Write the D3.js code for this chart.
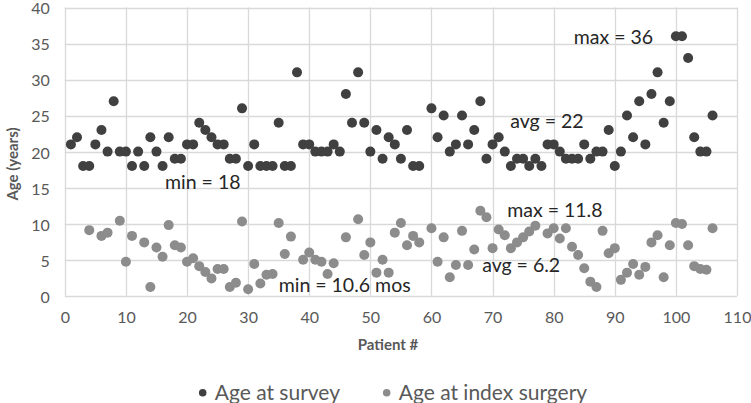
<!DOCTYPE html>
<html>
<head>
<meta charset="utf-8">
<script src="https://cdn.jsdelivr.net/npm/d3@7"></script>
<style>
  html, body { margin: 0; padding: 0; background: #fff; }
  svg { display: block; font-family: Lato, "Open Sans", sans-serif; }
</style>
</head>
<body>
<svg id="chart" width="751" height="403"></svg>
<script>
const patients = d3.range(1, 107);
const ageAtSurvey = [21,22,18,18,21,23,20,27,20,20,18,20,18,22,20,18,22,19,19,21,
  21,24,23,22,21,21,19,19,26,18,21,18,18,18,24,18,18,31,21,21,
  20,20,20,21,20,28,24,31,24,20,23,19,22,21,19,23,18,18,null,26,
  22,25,20,21,25,21,23,27,19,21,22,20,18,19,19,18,19,18,21,21,
  20,19,19,19,21,19,20,20,23,18,20,25,22,27,21,28,31,24,27,36,
  36,33,22,20,20,25];
const ageAtIndexSurgery = [null,null,null,9.1,null,8.3,8.75,null,10.4,4.7,8.3,null,7.4,1.2,6.7,5.4,9.8,7.0,6.7,4.7,
  5.2,4.1,3.3,2.4,3.7,3.7,1.2,1.8,10.3,0.9,4.4,1.7,2.9,3.0,10.1,5.8,8.2,null,5.0,6.0,
  5.0,4.7,3.0,4.5,null,8.1,null,10.6,5.65,7.4,3.2,5.0,3.2,8.75,10.1,7.0,8.3,7.4,null,9.35,
  4.7,8.1,2.55,4.25,9.0,4.25,6.4,11.8,10.9,6.6,9.2,8.4,6.6,7.4,8.1,8.9,9.7,null,8.65,9.35,
  7.95,9.35,6.8,5.65,3.8,1.95,1.2,9.0,5.9,6.6,2.2,3.2,4.4,2.9,4.0,7.4,8.4,2.55,7.0,10.1,
  9.95,7.0,4.1,3.7,3.6,9.35];
const seriesNames = ["Age at survey", "Age at index surgery"];
const xTicks = d3.range(0, 111, 10);
const yTicks = d3.range(0, 41, 5);
const annotations = [
  {text: "max = 36", x: 83.3, y: 34.9},
  {text: "avg = 22", x: 72.9, y: 23.3},
  {text: "min = 18", x: 16.4, y: 14.8},
  {text: "max = 11.8", x: 72.4, y: 10.9},
  {text: "avg = 6.2", x: 68.3, y: 3.3},
  {text: "min = 10.6 mos", x: 35.0, y: 0.5}
];

const colors = ["#404040", "#8c8c8c"];
const svg = d3.select("#chart");
const x = d3.scaleLinear().domain([0, 110]).range([64.8, 737]);
const y = d3.scaleLinear().domain([0, 40]).range([295.7, 7.5]);

// gridlines
svg.append("g").selectAll("line.h").data(yTicks).join("line")
  .attr("x1", x(0)).attr("x2", x(110))
  .attr("y1", d => Math.round(y(d)) + 0.5).attr("y2", d => Math.round(y(d)) + 0.5)
  .attr("stroke", "#d9d9d9").attr("stroke-width", 1.3);
svg.append("g").selectAll("line.v").data(xTicks).join("line")
  .attr("y1", y(0)).attr("y2", y(40))
  .attr("x1", d => Math.round(x(d)) + 0.5).attr("x2", d => Math.round(x(d)) + 0.5)
  .attr("stroke", "#d9d9d9").attr("stroke-width", 1.3);

// axes
const yAxis = svg.append("g").attr("transform", `translate(${x(0)},0)`)
  .call(d3.axisLeft(y).tickValues(yTicks).tickSize(0).tickPadding(15));
const xAxis = svg.append("g").attr("transform", `translate(0,${y(0)})`)
  .call(d3.axisBottom(x).tickValues(xTicks).tickSize(0).tickPadding(16));
[yAxis, xAxis].forEach(g => {
  g.select(".domain").remove();
  g.selectAll("text").attr("fill", "#595959").style("font-size", "16px").style("font-family", "Lato, sans-serif");
});
yAxis.selectAll("text").attr("dy", "0.4em");

// axis titles
svg.append("text").attr("x", 388).attr("y", 350).attr("text-anchor", "middle")
  .attr("fill", "#595959").style("font-size", "15px").style("font-weight", "bold").text("Patient #");
svg.append("text").attr("transform", "translate(18,164) rotate(-90)").attr("text-anchor", "middle")
  .attr("fill", "#595959").style("font-size", "15px").style("font-weight", "bold").text("Age (years)");

// points
const surveyPts = patients.map((p, i) => ({p, v: ageAtSurvey[i]})).filter(d => d.v != null);
const indexPts = patients.map((p, i) => ({p, v: ageAtIndexSurgery[i]})).filter(d => d.v != null);
svg.append("g").selectAll("circle").data(surveyPts).join("circle")
  .attr("cx", d => x(d.p)).attr("cy", d => y(d.v)).attr("r", 5).attr("fill", colors[0]);
svg.append("g").selectAll("circle").data(indexPts).join("circle")
  .attr("cx", d => x(d.p)).attr("cy", d => y(d.v)).attr("r", 5).attr("fill", colors[1]);

// annotations
svg.append("g").selectAll("text").data(annotations).join("text")
  .attr("x", d => x(d.x)).attr("y", d => y(d.y))
  .attr("fill", "#262626").style("font-size", "19.5px").text(d => d.text);

// legend
const legendX = [202.7, 386.7];
const lg = svg.append("g").selectAll("g").data(seriesNames).join("g")
  .attr("transform", (d, i) => `translate(${legendX[i]},392.7)`);
lg.append("circle").attr("r", 3.8).attr("fill", (d, i) => colors[i]);
lg.append("text").attr("x", 12).attr("y", 7).attr("fill", "#595959")
  .style("font-size", "21px").text(d => d);
</script>
</body>
</html>
